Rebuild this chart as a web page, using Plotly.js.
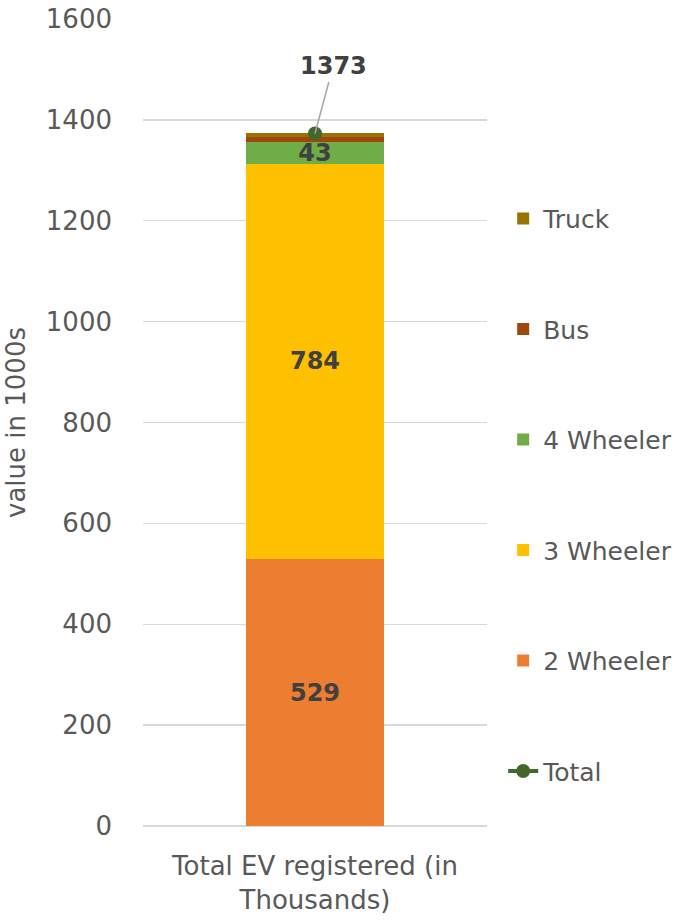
<!DOCTYPE html>
<html>
<head>
<meta charset="utf-8">
<script src="https://cdn.plot.ly/plotly-3.0.1.min.js"></script>
<style>html,body{margin:0;padding:0;background:#fff;}</style>
</head>
<body>
<div id="chart" style="width:681px;height:924px;"></div>
<script>
// ---- data ----
const categories = ["Total EV registered (in<br>Thousands)"];
const twoWheeler = [529];
const threeWheeler = [784];
const fourWheeler = [43];
const bus = [10];
const truck = [7];
const total = [1373];
const seriesNames = ["2 Wheeler", "3 Wheeler", "4 Wheeler", "Bus", "Truck", "Total"];

const FONT = "DejaVu Sans, Open Sans, sans-serif";
const grey = "#595959";
const labelColor = "#404040";

function barTrace(name, vals, color, rank, showLabel) {
  return {
    type: "bar",
    name: name,
    x: categories,
    y: vals,
    width: 0.4,
    marker: {color: color},
    text: showLabel ? vals.map(v => String(v)) : vals.map(() => ""),
    textposition: "inside",
    insidetextanchor: "middle",
    constraintext: "none",
    textfont: {family: FONT, size: 24, color: labelColor, weight: "bold"},
    legendgroup: name,
    legendrank: rank,
    hoverinfo: "skip"
  };
}

const traces = [
  barTrace(seriesNames[0], twoWheeler, "#ED7D31", 5, true),
  barTrace(seriesNames[1], threeWheeler, "#FFC000", 4, true),
  barTrace(seriesNames[2], fourWheeler, "#70AD47", 3, true),
  barTrace(seriesNames[3], bus, "#9E480E", 2, false),
  barTrace(seriesNames[4], truck, "#997300", 1, false),
  {
    type: "scatter",
    mode: "lines+markers",
    name: seriesNames[5],
    x: categories,
    y: total,
    line: {color: "#43682B", width: 4},
    marker: {color: "#43682B", size: 14},
    legendgroup: "Total",
    legendrank: 6,
    hoverinfo: "skip"
  }
];

const layout = {
  width: 681,
  height: 924,
  margin: {l: 143, r: 194, t: 19, b: 98, autoexpand: false},
  paper_bgcolor: "#ffffff",
  plot_bgcolor: "#ffffff",
  barmode: "stack",
  showlegend: true,
  font: {family: FONT, size: 26, color: grey},
  legend: {
    x: 1.047, xanchor: "left",
    y: 0.781, yanchor: "top",
    traceorder: "grouped",
    tracegroupgap: 75,
    font: {family: FONT, size: 25, color: grey},
    bgcolor: "rgba(0,0,0,0)"
  },
  xaxis: {
    type: "category",
    showgrid: false,
    showline: false,
    zeroline: false,
    ticks: "",
    ticklabelstandoff: 22,
    tickfont: {family: FONT, size: 26, color: grey}
  },
  yaxis: {
    range: [0, 1600],
    dtick: 200,
    tick0: 0,
    showgrid: true,
    gridcolor: "#D9D9D9",
    gridwidth: 1.3,
    zeroline: true,
    zerolinecolor: "#D9D9D9",
    zerolinewidth: 1.3,
    showline: false,
    ticks: "",
    ticklabelstandoff: 30,
    tickfont: {family: FONT, size: 26, color: grey},
    title: {text: "value in 1000s", font: {family: FONT, size: 26, color: grey}, standoff: 12}
  },
  annotations: [{
    x: categories[0],
    y: total[0],
    xref: "x", yref: "y",
    text: "<b>" + String(total[0]) + "</b>",
    showarrow: true,
    arrowhead: 0,
    arrowwidth: 1.5,
    arrowcolor: "#A6A6A6",
    ax: 18,
    ay: -67,
    standoff: 0,
    font: {family: FONT, size: 24, color: labelColor}
  }]
};

Plotly.newPlot("chart", traces, layout, {displayModeBar: false, staticPlot: true});
</script>
</body>
</html>
